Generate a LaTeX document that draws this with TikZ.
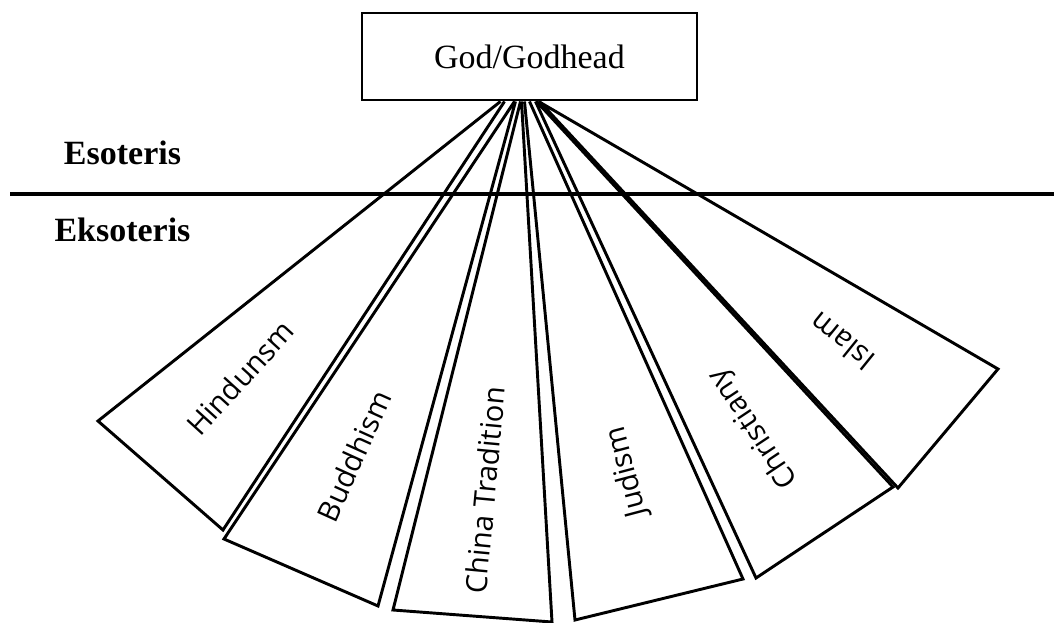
\documentclass[tikz,border=0pt]{standalone}
\usepackage{fontspec}
\setmainfont{Liberation Serif}
\newfontfamily\faithfont{Open Sans}
\usepackage{tikz}
\usetikzlibrary{calc}

\begin{document}
\begin{tikzpicture}[x=0.03cm, y=-0.03cm,
  godbox/.style={draw, line width=2.5pt, fill=white, minimum width=10.05cm, minimum height=2.61cm, font=\fontsize{29}{34}\selectfont},
  realm/.style={anchor=base, inner sep=0pt, font=\fontsize{29}{34}\selectfont\bfseries},
  wedge/.style={draw, line width=2.5pt},
  faith/.style={inner sep=0pt, font=\faithfont\fontsize{25}{29}\selectfont}]
\useasboundingbox (0,0) rectangle (1054,623);
\node[godbox] (god) at (529.5,56.5) {God/Godhead};
% one wedge per tradition, all hanging from the box
\foreach \al/\ar/\bl/\br/\lpos/\rot/\lbl [count=\i] in {%
  -29/-25/{98,421}/{223,530}/{240,378}/47.7/Hindunsm,%
  -15/-14/{224,539}/{378,606}/{354,456}/65.7/Buddhism,%
  -9/-8/{393,610}/{552,622}/{485,490}/84.6/{China Tradition},%
  -5/0/{575,620}/{743,579}/{627,472}/104.8/Judism,%
  6/7/{756,578}/{893,487}/{754,428}/123.7/Christiany,%
  10/9/{898,488}/{998,369}/{842,342}/141/Islam%
} {
  \draw[wedge] ($(god.south)+(\al,0)$) -- (\bl) -- (\br) -- ($(god.south)+(\ar,0)$);
  \node[faith, rotate=\rot] (faith-\i) at (\lpos) {\lbl};
}
\draw[line width=3.6pt] (10,194) coordinate (line-w) -- (1054,194) coordinate (line-e);
\node[realm] (eso) at (122.5,165) {Esoteris};
\node[realm] (eks) at (122.5,242) {Eksoteris};
\end{tikzpicture}
\end{document}
